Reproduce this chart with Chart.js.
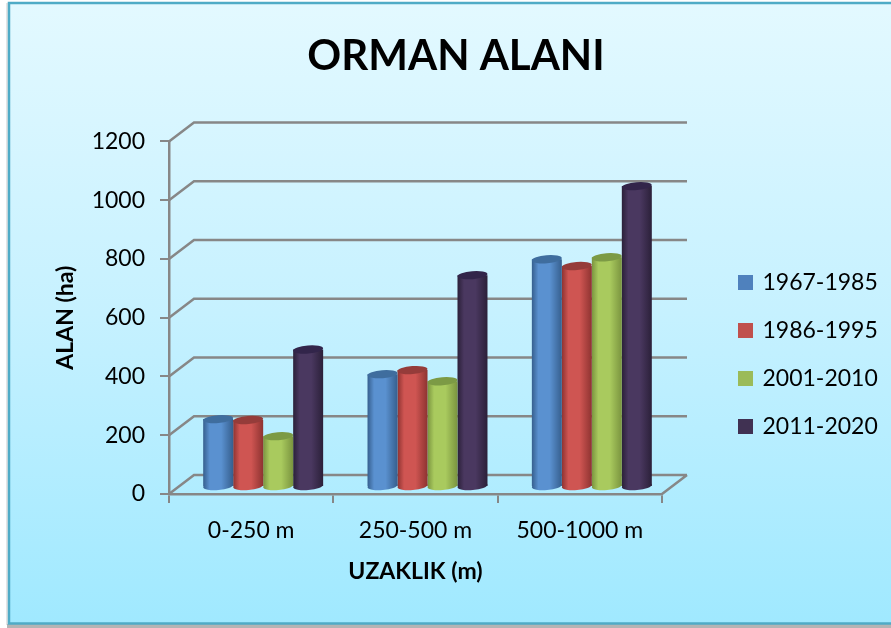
<!DOCTYPE html>
<html>
<head>
<meta charset="utf-8">
<title>ORMAN ALANI</title>
<script src="https://cdn.jsdelivr.net/npm/chart.js@4"></script>
<style>
    html, body { margin: 0; padding: 0; background: #ffffff; }
    canvas { display: block; }
</style>
</head>
<body>
<canvas id="grafico" width="891" height="628"></canvas>
<script>
// Datos
const categorias = ['0-250 m', '250-500 m', '500-1000 m'];
const periodos = ['1967-1985', '1986-1995', '2001-2010', '2011-2020'];
const valores1967 = [231, 384, 775];
const valores1986 = [228, 398, 752];
const valores2001 = [173, 360, 782];
const valores2011 = [468, 721, 1024];
const series = [valores1967, valores1986, valores2001, valores2011];

// Colores: leyenda, centro del cilindro, borde del cilindro, tapa
const colores = ['#4f81bd', '#c0504d', '#9bbb59', '#403152'];
const centros = ['#5a91d0', '#cf5552', '#a9ca5e', '#4a3860'];
const bordes = ['#365f8e', '#8e3331', '#7a943f', '#2b2039'];
const tapas = ['#3f6d9e', '#953c3a', '#7c9a45', '#32254a'];

const colorGrid = '#878787';
const fuente = 'Lato';
const anchoBarra = 30;
const altoTapa = 4;

// Profundidad de la pared del fondo y desplazamiento de las barras
const fondoX = 25;
const fondoY = -19;
const barraX = 12;
const barraY = -7;

function gradienteCilindro(chart, xc, i) {
    const g = chart.ctx.createLinearGradient(xc - anchoBarra / 2, 0, xc + anchoBarra / 2, 0);
    g.addColorStop(0, bordes[i]);
    g.addColorStop(0.22, centros[i]);
    g.addColorStop(0.6, centros[i]);
    g.addColorStop(1, bordes[i]);
    return g;
}

function elipse(ctx, x, y) {
    ctx.beginPath();
    ctx.ellipse(x, y, anchoBarra / 2, altoTapa, -0.08, 0, Math.PI * 2);
    ctx.fill();
}

// Fondo del grafico con marco
const fondoPlugin = {
    id: 'fondo',
    beforeDraw(chart) {
        const ctx = chart.ctx;
        const ancho = chart.width;
        ctx.save();
        const g = ctx.createLinearGradient(0, 3, 0, 623);
        g.addColorStop(0, '#e3f9ff');
        g.addColorStop(0.5, '#c6f1ff');
        g.addColorStop(1, '#a0e9ff');
        // sombra del marco
        ctx.fillStyle = '#e4e4e4';
        ctx.fillRect(6, 3, 3, 622);
        ctx.fillStyle = '#b4b4b4';
        ctx.fillRect(7, 624, ancho - 7, 4);
        ctx.fillStyle = g;
        ctx.fillRect(9, 3, ancho - 9, 620);
        ctx.strokeStyle = '#4fabc6';
        ctx.lineWidth = 2.5;
        ctx.beginPath();
        ctx.moveTo(ancho, 3);
        ctx.lineTo(9, 3);
        ctx.lineTo(9, 623.5);
        ctx.lineTo(ancho, 623.5);
        ctx.stroke();
        ctx.restore();
    }
};

// Pared del fondo en perspectiva y cilindros
const cilindrosPlugin = {
    id: 'cilindros',
    afterLayout(chart) {
        // Ajustar posicion de la leyenda y del titulo
        const leyenda = chart.legend;
        leyenda.left = 715;
        leyenda.right = 891;
        leyenda.top = 246;
        leyenda.bottom = 490;
        chart.titleBlock.left = 21;
        chart.titleBlock.right = 891;
    },
    beforeDatasetsDraw(chart) {
        const ctx = chart.ctx;
        const { left, right } = chart.chartArea;
        const ejeY = chart.scales.y;
        ctx.save();
        ctx.strokeStyle = colorGrid;
        ctx.lineWidth = 2.5;
        ejeY.ticks.forEach(tick => {
            const y = ejeY.getPixelForValue(tick.value);
            ctx.beginPath();
            ctx.moveTo(left, y);
            ctx.lineTo(left + fondoX, y + fondoY);
            ctx.lineTo(right + fondoX, y + fondoY);
            if (tick.value === 0) {
                ctx.moveTo(right, y);
                ctx.lineTo(right + fondoX, y + fondoY);
            }
            ctx.stroke();
        });

        // Las barras se dibujan dentro de este desplazamiento
        ctx.translate(barraX, barraY);
        chart.getSortedVisibleDatasetMetas().forEach(meta => {
            meta.data.forEach(barra => {
                ctx.fillStyle = gradienteCilindro(chart, barra.x, meta.index);
                elipse(ctx, barra.x, barra.base);
            });
        });
    },
    afterDatasetsDraw(chart) {
        const ctx = chart.ctx;
        chart.getSortedVisibleDatasetMetas().forEach(meta => {
            meta.data.forEach(barra => {
                ctx.fillStyle = tapas[meta.index];
                elipse(ctx, barra.x, barra.y);
            });
        });
        ctx.restore();
    }
};

const conjuntos = periodos.map((periodo, i) => ({
    label: periodo,
    data: series[i],
    borderWidth: 0,
    clip: false,
    categoryPercentage: 0.73,
    barPercentage: 1,
    backgroundColor(context) {
        const chart = context.chart;
        const ejeX = chart.scales.x;
        if (!ejeX || context.dataIndex === undefined) {
            return colores[i];
        }
        const xc = ejeX.getPixelForValue(context.dataIndex) + (i - 1.5) * anchoBarra;
        return gradienteCilindro(chart, xc, i);
    }
}));

new Chart(document.getElementById('grafico'), {
    type: 'bar',
    data: { labels: categorias, datasets: conjuntos },
    plugins: [fondoPlugin, cilindrosPlugin],
    options: {
        responsive: false,
        animation: false,
        layout: { padding: { right: 229 } },
        plugins: {
            tooltip: { enabled: false },
            title: {
                display: true,
                text: 'ORMAN ALANI',
                color: '#000000',
                font: { family: fuente, size: 42, weight: 'bold', lineHeight: 1.2 },
                padding: { top: 31, bottom: 60 }
            },
            legend: {
                position: 'chartArea',
                align: 'start',
                onClick: null,
                labels: {
                    color: '#000000',
                    font: { family: fuente, size: 23 },
                    boxWidth: 11,
                    boxHeight: 11,
                    padding: 25,
                    generateLabels() {
                        return periodos.map((periodo, i) => ({
                            text: periodo,
                            fillStyle: colores[i],
                            strokeStyle: colores[i],
                            lineWidth: 4,
                            datasetIndex: i
                        }));
                    }
                }
            }
        },
        scales: {
            x: {
                afterFit(eje) { eje.height = 134; },
                grid: {
                    drawOnChartArea: false,
                    color: colorGrid,
                    lineWidth: 2,
                    tickLength: 9
                },
                border: { color: colorGrid, width: 2.5 },
                ticks: {
                    color: '#000000',
                    font: { family: fuente, size: 23 },
                    padding: 14,
                    maxRotation: 0
                },
                title: {
                    display: true,
                    text: 'UZAKLIK (m)',
                    color: '#000000',
                    font: { family: fuente, size: 23, weight: 'bold', lineHeight: 1.2 },
                    padding: { top: 0, bottom: 43 }
                }
            },
            y: {
                min: 0,
                max: 1200,
                afterFit(eje) { eje.width = 169; },
                grid: {
                    drawOnChartArea: false,
                    color: colorGrid,
                    lineWidth: 2,
                    tickLength: 9
                },
                border: { color: colorGrid, width: 2.5 },
                ticks: {
                    stepSize: 200,
                    color: '#000000',
                    font: { family: fuente, size: 23 },
                    padding: 15,
                    callback(valor) { return String(valor); }
                },
                title: {
                    display: true,
                    text: 'ALAN (ha)',
                    color: '#000000',
                    font: { family: fuente, size: 23, weight: 'bold', lineHeight: 1.2 },
                    padding: { top: 52, bottom: 0 }
                }
            }
        }
    }
});
</script>
</body>
</html>
